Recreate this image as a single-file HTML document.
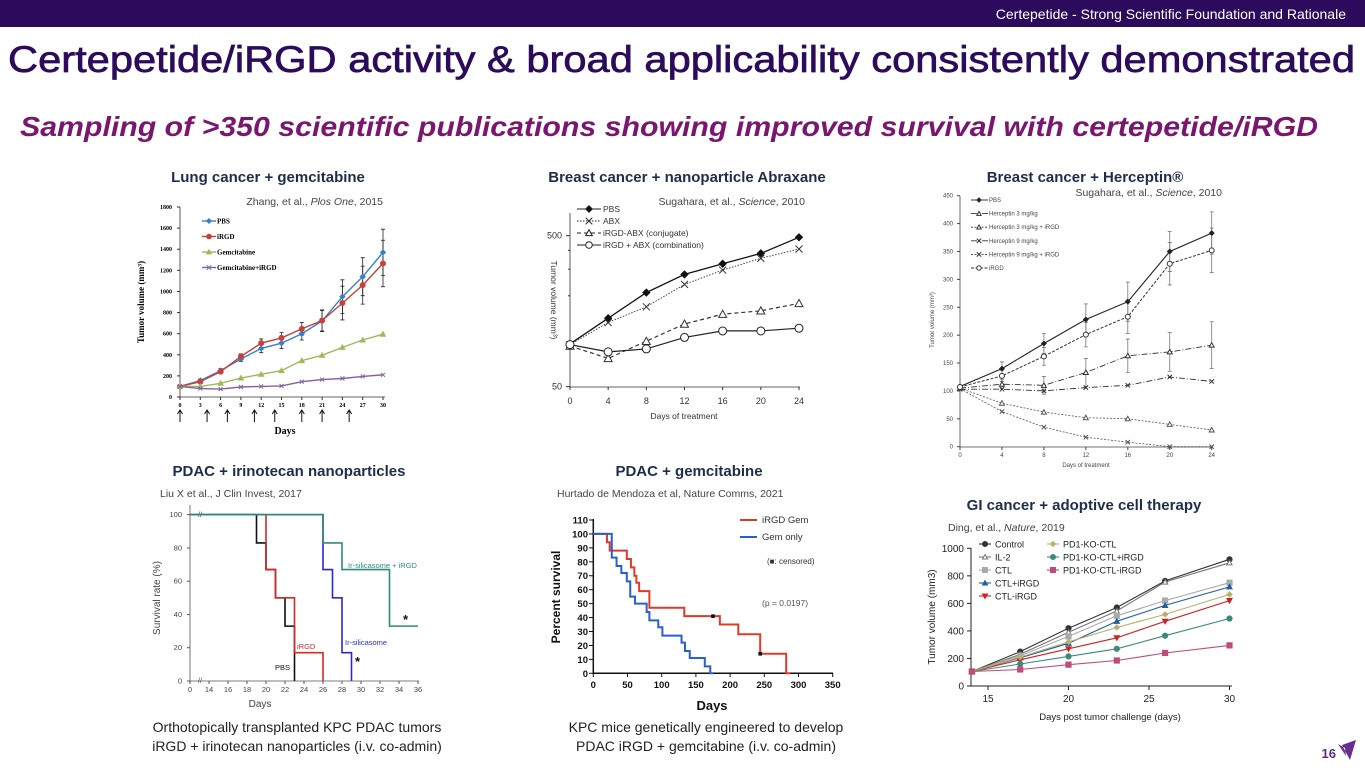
<!DOCTYPE html>
<html><head><meta charset="utf-8">
<style>
html,body{margin:0;padding:0;background:#fff;width:1365px;height:768px;overflow:hidden;font-family:"Liberation Sans",sans-serif}
svg{position:absolute;left:0;top:0}
</style></head>
<body>
<svg id="s" width="1365" height="768" xmlns="http://www.w3.org/2000/svg">
<rect x="0" y="0" width="1365" height="27" fill="#2c0b5c"/>
<text x="1346" y="19" text-anchor="end" font-size="14" fill="#fff">Certepetide - Strong Scientific Foundation and Rationale</text>
<text x="8" y="72" font-size="37" fill="#2c0b5c" stroke="#2c0b5c" stroke-width="0.7" textLength="1347" lengthAdjust="spacingAndGlyphs">Certepetide/iRGD activity &amp; broad applicability consistently demonstrated</text>
<text x="20" y="136" font-size="28" font-weight="bold" font-style="italic" fill="#7b1670" textLength="1298" lengthAdjust="spacingAndGlyphs">Sampling of &gt;350 scientific publications showing improved survival with certepetide/iRGD</text>
<g font-weight="bold" font-size="15" fill="#1f2d4d" text-anchor="middle">
<text x="268" y="182">Lung cancer + gemcitabine</text>
<text x="687" y="182">Breast cancer + nanoparticle Abraxane</text>
<text x="1085" y="182">Breast cancer + Herceptin®</text>
<text x="289" y="476">PDAC + irinotecan nanoparticles</text>
<text x="689" y="476">PDAC + gemcitabine</text>
<text x="1084" y="510">GI cancer + adoptive cell therapy</text>
</g>
<g font-size="10.5" fill="#444">
<text x="383" y="205" text-anchor="end">Zhang, et al., <tspan font-style="italic">Plos One</tspan>, 2015</text>
<text x="805" y="205" text-anchor="end">Sugahara, et al., <tspan font-style="italic">Science</tspan>, 2010</text>
<text x="1222" y="196" text-anchor="end">Sugahara, et al., <tspan font-style="italic">Science</tspan>, 2010</text>
<text x="160" y="497">Liu X et al., J Clin Invest, 2017</text>
<text x="557" y="497">Hurtado de Mendoza et al, Nature Comms, 2021</text>
<text x="948" y="531">Ding, et al., <tspan font-style="italic">Nature</tspan>, 2019</text>
</g>
<g font-size="14" fill="#222" text-anchor="middle">
<text x="297" y="732">Orthotopically transplanted KPC PDAC tumors</text>
<text x="297" y="751">iRGD + irinotecan nanoparticles (i.v. co-admin)</text>
<text x="706" y="732">KPC mice genetically engineered to develop</text>
<text x="706" y="751">PDAC iRGD + gemcitabine (i.v. co-admin)</text>
</g>
<text x="1336" y="758" text-anchor="end" font-size="13" font-weight="bold" fill="#5b2a86">16</text>
<path d="M1342 745 L1356 740 L1350 760 Z M1345 748 L1338 744 L1346 756 Z" fill="#6a2c91"/>
</svg>
<script>
// ===== Chart 1: lung =====
const c1Days=[0,3,6,9,12,15,18,21,24,27,30];
const c1PBS=[100,155,250,360,460,510,600,720,950,1140,1370];
const c1iRGD=[100,145,240,385,510,560,645,725,890,1060,1265];
const c1Gem=[100,100,130,180,215,250,345,395,470,540,595];
const c1GemiRGD=[100,80,75,95,100,105,145,165,175,195,210];
const c1Err=[10,15,20,25,40,50,60,100,160,180,220];
const c1YTicks=[0,200,400,600,800,1000,1200,1400,1600,1800];
const c1Arrows=[0,4,7,11,14,18,21,25];
// ===== Chart 2: abraxane (log) =====
const c2Days=[0,4,8,12,16,20,24];
const c2PBS=[96,142,210,277,326,382,488];
const c2ABX=[95,133,169,238,296,354,408];
const c2Conj=[93,77,100,130,151,159,178];
const c2Comb=[95,85,89,106,117,117,122];
const c2YTicks=[50,500];
// ===== Chart 3: herceptin =====
const c3Days=[0,4,8,12,16,20,24];
const c3PBS=[108,140,185,228,260,350,383];
const c3H3=[105,112,110,133,163,170,182];
const c3H3i=[105,78,62,52,50,40,30];
const c3H9=[103,103,100,106,110,125,117];
const c3H9i=[104,63,35,17,8,0,0];
const c3iRGD=[107,127,162,201,233,328,352];
const c3YTicks=[0,50,100,150,200,250,300,350,400,450];
// ===== Chart 4: irinotecan survival =====
const c4PBSt=[0,19,20,21,22,23], c4PBSv=[100,83,67,50,33,0];
const c4iRGDt=[0,20,21,23,26], c4iRGDv=[100,67,50,17,0];
const c4IrT=[0,26,27,28,29], c4IrV=[100,67,50,17,0];
const c4IriT=[0,26,28,33], c4IriV=[100,83,67,33];
const c4XTicks=[0,14,16,18,20,22,24,26,28,30,32,34,36];
const c4YTicks=[0,20,40,60,80,100];
// ===== Chart 5: PDAC gem survival =====
const c5RedT=[0,20,24,49,55,60,63,67,82,133,185,212,244,282];
const c5RedV=[100,94,88,82,76,70,65,59,47,41,35,28,14,0];
const c5BlueT=[0,27,34,41,49,54,61,78,82,95,101,129,134,141,163,171];
const c5BlueV=[100,83,77,72,66,55,50,44,38,33,27,22,16,11,5,0];
const c5CensT=[175,244], c5CensV=[41,14];
const c5XTicks=[0,50,100,150,200,250,300,350];
const c5YTicks=[0,10,20,30,40,50,60,70,80,90,100,110];
// ===== Chart 6: GI =====
const c6Days=[14,17,20,23,26,30];
const c6Control=[105,250,420,570,763,920];
const c6IL2=[105,230,390,545,755,895];
const c6CTL=[105,220,360,510,620,750];
const c6CTLp=[105,205,310,470,585,720];
const c6CTLm=[105,190,270,350,470,620];
const c6PD1=[105,210,320,425,520,665];
const c6PD1p=[105,160,215,270,365,490];
const c6PD1m=[105,120,155,185,240,295];
const c6XTicks=[15,20,25,30];
const c6YTicks=[0,200,400,600,800,1000];

const S=document.getElementById('s');
const NS='http://www.w3.org/2000/svg';
function mk(tag,attrs,parent){const e=document.createElementNS(NS,tag);for(const k in attrs)e.setAttribute(k,attrs[k]);(parent||S).appendChild(e);return e;}
function txt(p,x,y,s,attrs){const t=mk('text',Object.assign({x:x,y:y},attrs||{}),p);t.textContent=s;return t;}
function marker(p,type,cx,cy,r,col,fill){
  let e;
  if(type==='circle')e=mk('circle',{cx:cx,cy:cy,r:r,fill:fill,stroke:col,'stroke-width':1},p);
  else if(type==='square')e=mk('rect',{x:cx-r,y:cy-r,width:2*r,height:2*r,fill:fill,stroke:col,'stroke-width':1},p);
  else if(type==='diamond')e=mk('path',{d:`M${cx} ${cy-r}L${cx+r} ${cy}L${cx} ${cy+r}L${cx-r} ${cy}Z`,fill:fill,stroke:col},p);
  else if(type==='tri')e=mk('path',{d:`M${cx} ${cy-r}L${cx+r} ${cy+r*0.8}L${cx-r} ${cy+r*0.8}Z`,fill:fill,stroke:col},p);
  else if(type==='dtri')e=mk('path',{d:`M${cx} ${cy+r}L${cx+r} ${cy-r*0.8}L${cx-r} ${cy-r*0.8}Z`,fill:fill,stroke:col},p);
  else if(type==='x')e=mk('path',{d:`M${cx-r} ${cy-r}L${cx+r} ${cy+r}M${cx+r} ${cy-r}L${cx-r} ${cy+r}`,fill:'none',stroke:col,'stroke-width':1},p);
  return e;
}
function series(p,name,xs,ys,X,Y,col,dash,mtype,mr,mfill,w){
  const g=mk('g',{},p);
  
  
  const d=xs.map((x,i)=>(i?'L':'M')+X(x).toFixed(1)+' '+Y(ys[i]).toFixed(1)).join('');
  mk('path',{d:d,fill:'none',stroke:col,'stroke-width':w||1.2,'stroke-dasharray':dash||'none'},g);
  xs.forEach((x,i)=>{const m=marker(g,mtype,X(x),Y(ys[i]),mr,col,mfill);
    
    });
  return g;
}
function errbars(p,xs,ys,es,X,Y,col){
  xs.forEach((x,i)=>{const cx=X(x),a=Y(ys[i]+es[i]),b=Y(Math.max(0,ys[i]-es[i]));
    mk('path',{d:`M${cx} ${a}V${b}M${cx-2} ${a}H${cx+2}M${cx-2} ${b}H${cx+2}`,stroke:col,'stroke-width':0.8,fill:'none'},p);});
}
function steps(p,name,ts,vs,end,X,Y,col,w){
  let d=`M${X(ts[0])} ${Y(vs[0])}`;
  for(let i=1;i<ts.length;i++){d+=`H${X(ts[i])}V${Y(vs[i])}`;}
  d+=`H${X(end)}`;
  const e=mk('path',{d:d,fill:'none',stroke:col,'stroke-width':w||1.6},p);
  
  
  return e;
}

// ---------- Chart 1 ----------
(function(){
const g=mk('g',{'font-family':'Liberation Serif, serif','font-weight':'bold'});


const X=d=>180+d*(203/30), Y=v=>397-v*(190/1800);
mk('path',{d:'M180 207V397H385',stroke:'#333',fill:'none','stroke-width':0.8},g);
c1YTicks.forEach(v=>{mk('path',{d:`M177 ${Y(v)}H180`,stroke:'#333'},g);txt(g,172,Y(v)+2,v,{'font-size':6,'text-anchor':'end'});});
c1Days.forEach(v=>{mk('path',{d:`M${X(v)} 397V400`,stroke:'#333'},g);txt(g,X(v),407,v,{'font-size':6,'text-anchor':'middle'});});
c1Arrows.forEach(v=>{const x=X(v);const a=mk('path',{d:`M${x} 422V411M${x-2.5} 414L${x} 410L${x+2.5} 414`,stroke:'#111',fill:'none','stroke-width':1},g);
 
 });
txt(g,285,434,'Days',{'font-size':10,'text-anchor':'middle'});
txt(g,0,0,'Tumor volume (mm³)',{'font-size':9,'text-anchor':'middle',transform:'translate(144 302) rotate(-90)'});
errbars(g,c1Days,c1PBS,c1Err,X,Y,'#222');errbars(g,c1Days,c1iRGD,c1Err,X,Y,'#222');
series(g,'series-pbs',c1Days,c1PBS,X,Y,'#3a7fc6',null,'diamond',2.5,'#3a7fc6',1.4);
series(g,'series-irgd',c1Days,c1iRGD,X,Y,'#c8403b',null,'circle',2.5,'#c8403b',1.4);
series(g,'series-gemcitabine',c1Days,c1Gem,X,Y,'#9bbb59',null,'tri',2.5,'#9bbb59',1.4);
series(g,'series-gemcitabine-irgd',c1Days,c1GemiRGD,X,Y,'#8064a2',null,'x',2,'none',1.4);
const L=[['PBS','#3a7fc6','diamond','#3a7fc6'],['iRGD','#c8403b','circle','#c8403b'],['Gemcitabine','#9bbb59','tri','#9bbb59'],['Gemcitabine+iRGD','#8064a2','x','none']];
L.forEach((l,i)=>{const y=221+i*15.5;const lg=mk('g',{},g);
 
 
 mk('path',{d:`M202 ${y}H216`,stroke:l[1],'stroke-width':1.4},lg);marker(lg,l[2],209,y,2.3,l[1],l[3]);txt(lg,217,y+2.5,l[0],{'font-size':7});});
})();

// ---------- Chart 2 ----------
(function(){
const g=mk('g',{'font-size':9,fill:'#333'});


const X=d=>570+d*(229/24), Y=v=>386.7-Math.log10(v/50)*151;
mk('path',{d:'M570 213V387H800',stroke:'#333',fill:'none','stroke-width':0.8},g);
c2YTicks.forEach(v=>{mk('path',{d:`M566 ${Y(v)}H570`,stroke:'#333'},g);txt(g,562,Y(v)+3,v,{'text-anchor':'end'});});
[100,200,300,400].forEach(v=>mk('path',{d:`M568 ${Y(v)}H570`,stroke:'#333'},g));
c2Days.forEach(v=>{mk('path',{d:`M${X(v)} 387V390`,stroke:'#333'},g);txt(g,X(v),404,v,{'text-anchor':'middle'});});
txt(g,684,419,'Days of treatment',{'text-anchor':'middle','font-size':8.5});
txt(g,0,0,'Tumor volume (mm³)',{'text-anchor':'middle','font-size':8.5,transform:'translate(551 300) rotate(90)'});
series(g,'series-pbs',c2Days,c2PBS,X,Y,'#111',null,'diamond',3.5,'#111',1.3);
series(g,'series-abx',c2Days,c2ABX,X,Y,'#333','1.5 1.5','x',3.5,'none',0.9);
series(g,'series-irgd-abx-conjugate',c2Days,c2Conj,X,Y,'#333','4 3','tri',4,'#fff',1.2);
series(g,'series-irgd-abx-combination',c2Days,c2Comb,X,Y,'#222',null,'circle',4,'#fff',1.2);
const L=[['PBS',null,'diamond','#111'],['ABX','1.5 1.5','x','none'],['iRGD-ABX (conjugate)','4 3','tri','#fff'],['iRGD + ABX (combination)',null,'circle','#fff']];
L.forEach((l,i)=>{const y=209+i*12;const lg=mk('g',{},g);
 
 
 mk('path',{d:`M577 ${y}H601`,stroke:'#222','stroke-dasharray':l[1]||'none'},lg);marker(lg,l[2],589,y,3.3,'#222',l[3]);txt(lg,603,y+3,l[0],{'font-size':8.5});});
})();

// ---------- Chart 3 ----------
(function(){
const g=mk('g',{'font-size':6,fill:'#444'});


const X=d=>960+d*(251.7/24), Y=v=>446.7-v*(251/450);
mk('path',{d:'M960 196V447H1213',stroke:'#444',fill:'none','stroke-width':0.8},g);
c3YTicks.forEach(v=>{mk('path',{d:`M957 ${Y(v)}H960`,stroke:'#444'},g);txt(g,953,Y(v)+2,v,{'text-anchor':'end'});});
c3Days.forEach(v=>{mk('path',{d:`M${X(v)} 447V450`,stroke:'#444'},g);txt(g,X(v),457,v,{'text-anchor':'middle'});});
txt(g,1086,467,'Days of treatment',{'text-anchor':'middle'});
txt(g,0,0,'Tumor volume (mm³)',{'text-anchor':'middle',transform:'translate(934 320) rotate(-90)'});
const Es=[[c3PBS,[3,12,18,28,35,36,38]],[c3iRGD,[3,10,16,22,30,38,40]],[c3H3,[3,8,16,25,30,35,42]]];
Es.forEach(e=>errbars(g,c3Days,e[0],e[1],X,Y,'#777'));
series(g,'series-pbs',c3Days,c3PBS,X,Y,'#222',null,'diamond',2.3,'#222',1.1);
series(g,'series-herceptin-3',c3Days,c3H3,X,Y,'#333','6 2 1 2','tri',2.5,'#fff',0.9);
series(g,'series-herceptin-3-irgd',c3Days,c3H3i,X,Y,'#555','2 1.5','tri',2.5,'#fff',0.8);
series(g,'series-herceptin-9',c3Days,c3H9,X,Y,'#333','6 2 1 2','x',2.2,'none',0.9);
series(g,'series-herceptin-9-irgd',c3Days,c3H9i,X,Y,'#555','2 1.5','x',2.2,'none',0.8);
series(g,'series-irgd',c3Days,c3iRGD,X,Y,'#333','3 1.5','circle',2.5,'#fff',1);
const L=[['PBS',null,'diamond','#222'],['Herceptin 3 mg/kg','6 2 1 2','tri','#fff'],['Herceptin 3 mg/kg + iRGD','2 1.5','tri','#fff'],['Herceptin 9 mg/kg','6 2 1 2','x','none'],['Herceptin 9 mg/kg + iRGD','2 1.5','x','none'],['iRGD','3 1.5','circle','#fff']];
L.forEach((l,i)=>{const y=200+i*13.6;const lg=mk('g',{},g);
 
 
 mk('path',{d:`M971 ${y}H988`,stroke:'#333','stroke-dasharray':l[1]||'none','stroke-width':0.9},lg);marker(lg,l[2],979,y,2.2,'#333',l[3]);txt(lg,989,y+2,l[0],{});});
})();

// ---------- Chart 4 ----------
(function(){
const g=mk('g',{'font-size':7.5,fill:'#444'});


const X=d=>d<14?190+d*(19/14):209+(d-14)*9.5, Y=v=>681-v*1.663;
mk('path',{d:'M190 505V681H419',stroke:'#555',fill:'none','stroke-width':0.8},g);
c4YTicks.forEach(v=>{mk('path',{d:`M187 ${Y(v)}H190`,stroke:'#555'},g);txt(g,182,Y(v)+2.5,v,{'text-anchor':'end'});});
c4XTicks.forEach(v=>{mk('path',{d:`M${X(v)} 681V684`,stroke:'#555'},g);txt(g,X(v),692,v,{'text-anchor':'middle'});});
txt(g,198,517,'//',{'font-size':7});txt(g,198,683,'//',{'font-size':7});
txt(g,260,707,'Days',{'text-anchor':'middle','font-size':10});
txt(g,0,0,'Survival rate (%)',{'text-anchor':'middle','font-size':10,transform:'translate(160 598) rotate(-90)'});
steps(g,'series-pbs',c4PBSt,c4PBSv,23,X,Y,'#111');
steps(g,'series-irgd',c4iRGDt,c4iRGDv,26,X,Y,'#d42a2a');
steps(g,'series-ir-silicasome',c4IrT,c4IrV,29,X,Y,'#2a2ad0');
steps(g,'series-ir-silicasome-irgd',c4IriT,c4IriV,36,X,Y,'#2e8b7a');
txt(g,348,568,'Ir-silicasome + iRGD',{fill:'#2e8b7a'});
txt(g,345,645,'Ir-silicasome',{fill:'#2a2ad0'});
txt(g,297,649,'iRGD',{fill:'#d42a2a'});
txt(g,275,670,'PBS',{fill:'#111'});
txt(g,403,624,'*',{'font-size':13,fill:'#111','font-weight':'bold'});
txt(g,355,666,'*',{'font-size':13,fill:'#111','font-weight':'bold'});
})();

// ---------- Chart 5 ----------
(function(){
const g=mk('g',{'font-size':9.5,fill:'#111','font-weight':'bold'});


const X=d=>593.3+d*(239.4/350), Y=v=>673.3-v*(153.3/110);
mk('path',{d:'M593.3 519V673.3H833',stroke:'#111',fill:'none','stroke-width':1.5},g);
c5YTicks.forEach(v=>{mk('path',{d:`M589 ${Y(v)}H593`,stroke:'#111'},g);txt(g,588,Y(v)+3.5,v,{'text-anchor':'end'});});
c5XTicks.forEach(v=>{mk('path',{d:`M${X(v)} 673V677`,stroke:'#111'},g);txt(g,X(v),688,v,{'text-anchor':'middle'});});
txt(g,712,710,'Days',{'text-anchor':'middle','font-size':13});
txt(g,0,0,'Percent survival',{'text-anchor':'middle','font-size':12,transform:'translate(560 597) rotate(-90)'});
steps(g,'series-irgd-gem',c5RedT,c5RedV,288,X,Y,'#e03a2a',2);
steps(g,'series-gem-only',c5BlueT,c5BlueV,175,X,Y,'#2a5fd0',2);
c5CensT.forEach((t,i)=>{const m=mk('rect',{x:X(t)-1.8,y:Y(c5CensV[i])-1.8,width:3.6,height:3.6,fill:'#111'},g);
 
 });
const l1=mk('g',{},g);


mk('path',{d:'M740 520H757',stroke:'#e03a2a','stroke-width':2},l1);txt(l1,762,523,'iRGD  Gem',{'font-weight':'normal','font-size':9.5,fill:'#333'});
const l2=mk('g',{},g);


mk('path',{d:'M740 537H757',stroke:'#2a5fd0','stroke-width':2},l2);txt(l2,762,540,'Gem only',{'font-weight':'normal','font-size':9.5,fill:'#333'});
txt(g,767,564,'(■: censored)',{'font-weight':'normal','font-size':8,fill:'#333'});
txt(g,762,606,'(p = 0.0197)',{'font-weight':'normal','font-size':8.5,fill:'#555'});
})();

// ---------- Chart 6 ----------
(function(){
const g=mk('g',{'font-size':10,fill:'#222'});


const X=d=>988+(d-15)*16.1, Y=v=>686-v*0.1377;
mk('path',{d:'M971 548V686H1232',stroke:'#222',fill:'none','stroke-width':1},g);
c6YTicks.forEach(v=>{mk('path',{d:`M967 ${Y(v)}H971`,stroke:'#222'},g);txt(g,964,Y(v)+3.5,v,{'text-anchor':'end'});});
c6XTicks.forEach(v=>{mk('path',{d:`M${X(v)} 686V690`,stroke:'#222'},g);txt(g,X(v),702,v,{'text-anchor':'middle'});});
txt(g,1110,720,'Days post tumor challenge (days)',{'text-anchor':'middle','font-size':9.5});
txt(g,0,0,'Tumor volume (mm3)',{'text-anchor':'middle','font-size':10,transform:'translate(935 617) rotate(-90)'});
const S6=[['series-control','Control',c6Control,'#333','circle','#333'],['series-il2','IL-2',c6IL2,'#777','tri','#fff'],['series-ctl','CTL',c6CTL,'#aaa','square','#aaa'],['series-ctl-plus-irgd','CTL+iRGD',c6CTLp,'#1f5fa0','tri','#1f5fa0'],['series-ctl-irgd','CTL-iRGD',c6CTLm,'#d02020','dtri','#d02020'],['series-pd1-ko-ctl','PD1-KO-CTL',c6PD1,'#b8b070','diamond','#b8b070'],['series-pd1-ko-ctl-plus-irgd','PD1-KO-CTL+iRGD',c6PD1p,'#3a8a7a','circle','#3a8a7a'],['series-pd1-ko-ctl-irgd','PD1-KO-CTL-iRGD',c6PD1m,'#c04a7a','square','#c04a7a']];
S6.forEach(s=>series(g,s[0],c6Days,s[2],X,Y,s[3],null,s[4],2.6,s[5],1.1));
S6.forEach((s,i)=>{const col=i<5?0:1,row=i<5?i:i-5;const x=col?1053:985,y=544+row*13;const lg=mk('g',{},g);
 
 
 mk('path',{d:`M${x-6} ${y}H${x+6}`,stroke:s[3],'stroke-width':1.1},lg);marker(lg,s[4],x,y,2.5,s[3],s[5]);txt(lg,x+10,y+3.5,s[1],{'font-size':9});});
})();
</script>
</body></html>
